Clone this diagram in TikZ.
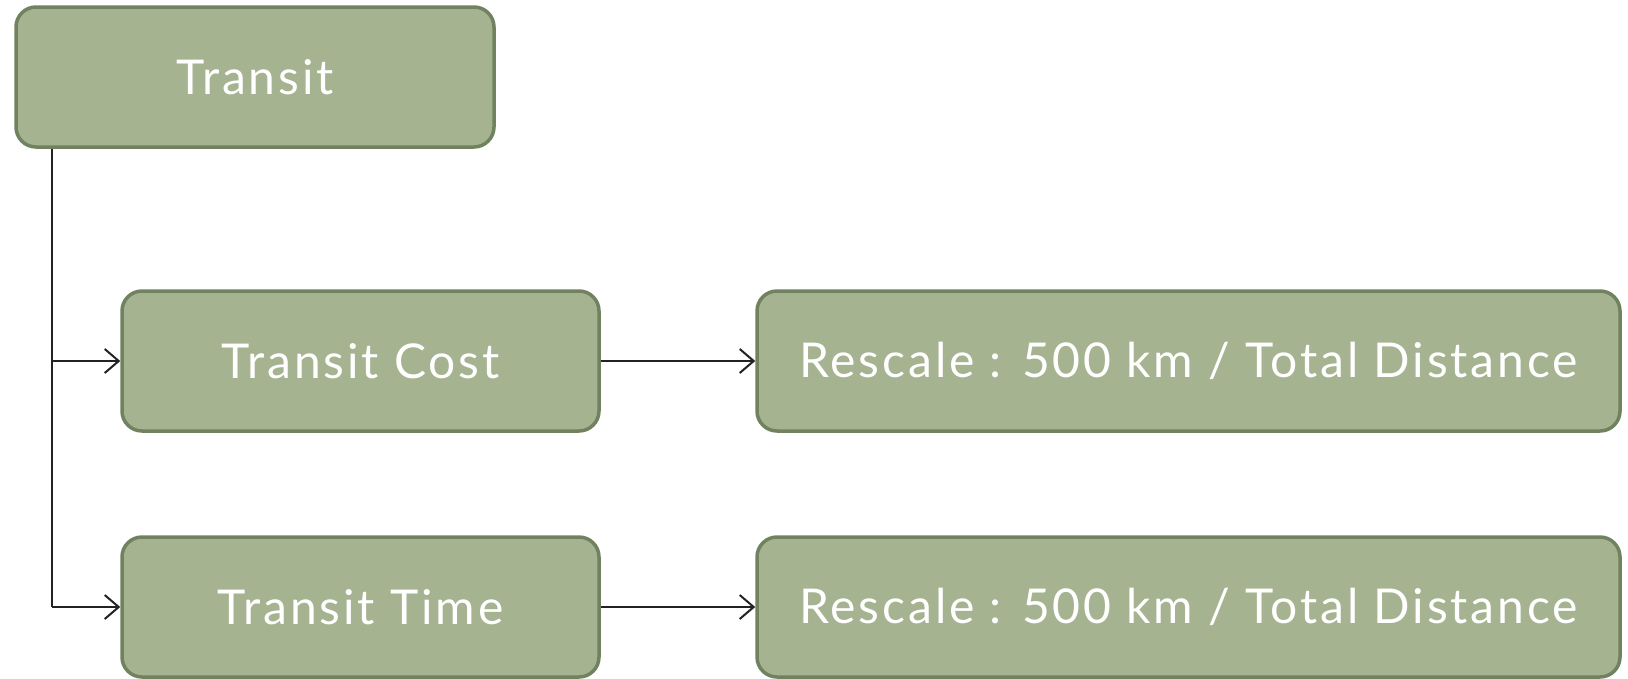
\documentclass[tikz,border=0pt]{standalone}
\usepackage{fontspec}
\setmainfont{Lato}[LetterSpace=6]
\usetikzlibrary{arrows.meta}
\definecolor{boxfill}{HTML}{A5B390}
\definecolor{boxline}{HTML}{718260}
\definecolor{linec}{HTML}{222222}
\tikzset{
  box/.style={draw=boxline, line width=3.5pt, fill=boxfill, rounded corners=20pt,
    text=white, font=\fontsize{48}{52}\selectfont, inner sep=0pt},
  conn/.style={draw=linec, line width=2pt, -{Straight Barb[length=14pt,width=24pt,line width=2pt]}}
}
\begin{document}
\begin{tikzpicture}[x=1pt,y=-1pt]
\useasboundingbox (0,0) rectangle (1628,678);
\node[box, minimum width=478pt, minimum height=140pt] (t) at (255,77) {Transit};
\node[box, minimum width=477pt, minimum height=140pt] (tc) at (360.5,361) {Transit Cost};
\node[box, minimum width=863pt, minimum height=140pt] (r1) at (1188.5,361) {Rescale : 500 km / Total Distance};
\node[box, minimum width=477pt, minimum height=140pt] (tt) at (360.5,607) {Transit Time};
\node[box, minimum width=863pt, minimum height=140pt] (r2) at (1188.5,607) {Rescale : 500 km / Total Distance};
\coordinate (top) at (52,147);
\coordinate (j1) at (52,361);
\coordinate (j2) at (52,607);
\draw[draw=linec, line width=2pt] (t.south -| top) -- (j2);
\draw[conn] (j1) -- (tc.west);
\draw[conn] (j2) -- (tt.west);
\draw[conn] (tc.east) -- (r1.west);
\draw[conn] (tt.east) -- (r2.west);
\end{tikzpicture}
\end{document}
